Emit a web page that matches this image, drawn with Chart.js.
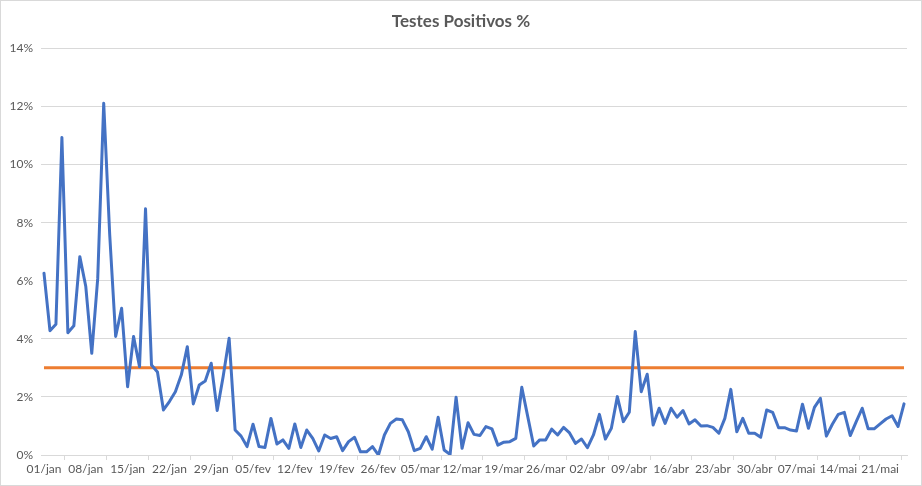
<!DOCTYPE html>
<html>
<head>
<meta charset="utf-8">
<script src="https://cdn.jsdelivr.net/npm/chart.js@4.4.1/dist/chart.umd.min.js"></script>
<style>
  html, body { margin: 0; padding: 0; background: #fff; }
  #wrap { width: 920px; height: 484px; border: 1px solid #d9d9d9; }
  canvas { display: block; }
</style>
</head>
<body>
<div id="wrap"><canvas id="chart" width="920" height="484"></canvas></div>
<script>
// Daily categories, 01/jan to 25/mai
const days = [
  "01/jan","02/jan","03/jan","04/jan","05/jan","06/jan","07/jan","08/jan","09/jan","10/jan",
  "11/jan","12/jan","13/jan","14/jan","15/jan","16/jan","17/jan","18/jan","19/jan","20/jan",
  "21/jan","22/jan","23/jan","24/jan","25/jan","26/jan","27/jan","28/jan","29/jan","30/jan","31/jan",
  "01/fev","02/fev","03/fev","04/fev","05/fev","06/fev","07/fev","08/fev","09/fev","10/fev",
  "11/fev","12/fev","13/fev","14/fev","15/fev","16/fev","17/fev","18/fev","19/fev","20/fev",
  "21/fev","22/fev","23/fev","24/fev","25/fev","26/fev","27/fev","28/fev",
  "01/mar","02/mar","03/mar","04/mar","05/mar","06/mar","07/mar","08/mar","09/mar","10/mar",
  "11/mar","12/mar","13/mar","14/mar","15/mar","16/mar","17/mar","18/mar","19/mar","20/mar",
  "21/mar","22/mar","23/mar","24/mar","25/mar","26/mar","27/mar","28/mar","29/mar","30/mar","31/mar",
  "01/abr","02/abr","03/abr","04/abr","05/abr","06/abr","07/abr","08/abr","09/abr","10/abr",
  "11/abr","12/abr","13/abr","14/abr","15/abr","16/abr","17/abr","18/abr","19/abr","20/abr",
  "21/abr","22/abr","23/abr","24/abr","25/abr","26/abr","27/abr","28/abr","29/abr","30/abr",
  "01/mai","02/mai","03/mai","04/mai","05/mai","06/mai","07/mai","08/mai","09/mai","10/mai",
  "11/mai","12/mai","13/mai","14/mai","15/mai","16/mai","17/mai","18/mai","19/mai","20/mai",
  "21/mai","22/mai","23/mai","24/mai","25/mai"
];

// Positive test rate (%), one array per month
const janPct = [6.26, 4.28, 4.50, 10.93, 4.21, 4.45, 6.83, 5.80, 3.50, 6.09,
  12.11, 7.6, 4.08, 5.05, 2.35, 4.08, 3.04, 8.48, 3.10, 2.86,
  1.55, 1.84, 2.18, 2.76, 3.73, 1.76, 2.41, 2.55, 3.16, 1.53, 2.70];
const fevPct = [4.02, 0.86, 0.65, 0.29, 1.06, 0.29, 0.26, 1.26, 0.38, 0.52,
  0.23, 1.07, 0.26, 0.86, 0.57, 0.14, 0.69, 0.57, 0.63, 0.15,
  0.46, 0.61, 0.11, 0.11, 0.29, 0.0, 0.69, 1.09];
const marPct = [1.24, 1.21, 0.80, 0.15, 0.23, 0.63, 0.20, 1.30, 0.17, 0.02,
  1.99, 0.23, 1.11, 0.71, 0.67, 0.98, 0.90, 0.34, 0.44, 0.46,
  0.57, 2.33, 1.32, 0.31, 0.52, 0.52, 0.89, 0.69, 0.95, 0.76, 0.40];
const abrPct = [0.55, 0.25, 0.69, 1.40, 0.55, 0.92, 2.01, 1.15, 1.47, 4.25,
  2.18, 2.78, 1.03, 1.61, 1.09, 1.61, 1.30, 1.53, 1.07, 1.21,
  1.00, 1.01, 0.95, 0.75, 1.26, 2.26, 0.80, 1.26, 0.75, 0.75];
const maiPct = [0.61, 1.55, 1.47, 0.94, 0.94, 0.86, 0.83, 1.75, 0.92, 1.64,
  1.95, 0.65, 1.06, 1.40, 1.47, 0.67, 1.15, 1.61, 0.90, 0.90,
  1.07, 1.24, 1.35, 0.98, 1.76];

const limitPct = 3;
const yTicks = [0, 2, 4, 6, 8, 10, 12, 14];

const positivePct = [].concat(janPct, fevPct, marPct, abrPct, maiPct);
const limitLine = days.map(() => limitPct);

const textColor = "#595959";
const gridColor = "#d9d9d9";
const fontFamily = "Lato, 'Open Sans', sans-serif";

new Chart(document.getElementById("chart"), {
  type: "line",
  data: {
    labels: days,
    datasets: [
      {
        data: positivePct,
        borderColor: "#4472c4",
        borderWidth: 3,
        pointRadius: 0,
        borderJoinStyle: "round",
        borderCapStyle: "round",
        tension: 0
      },
      {
        data: limitLine,
        borderColor: "#ed7d31",
        borderWidth: 3,
        pointRadius: 0,
        tension: 0
      }
    ]
  },
  options: {
    responsive: false,
    animation: false,
    layout: { padding: 0 },
    plugins: {
      legend: { display: false },
      tooltip: { enabled: false },
      title: {
        display: true,
        text: "Testes Positivos %",
        color: textColor,
        font: { family: fontFamily, size: 17, weight: "bold" },
        padding: { top: 10, bottom: 17 }
      }
    },
    scales: {
      x: {
        offset: true,
        grid: {
          offset: true,
          drawOnChartArea: false,
          drawTicks: true,
          tickLength: 5,
          color: gridColor
        },
        border: { display: true, color: gridColor },
        ticks: {
          autoSkip: false,
          maxRotation: 0,
          minRotation: 0,
          padding: 2,
          color: textColor,
          font: { family: fontFamily, size: 12 },
          callback: (value, index) => (index % 7 === 0 ? days[index] : null)
        },
        afterFit: (scale) => { scale.height = 30; }
      },
      y: {
        min: 0,
        max: 14,
        afterBuildTicks: (scale) => { scale.ticks = yTicks.map((v) => ({ value: v })); },
        grid: { color: gridColor, drawTicks: false },
        border: { display: false },
        ticks: {
          padding: 8,
          color: textColor,
          font: { family: fontFamily, size: 12 },
          callback: (value) => value + "%"
        },
        afterFit: (scale) => { scale.width = 40; }
      },
      // empty right-hand spacer so the title stays centred on the whole canvas
      yRight: {
        position: "right",
        grid: { display: false },
        border: { display: false },
        ticks: { display: false },
        afterFit: (scale) => { scale.width = 14; }
      }
    }
  }
});
</script>
</body>
</html>
